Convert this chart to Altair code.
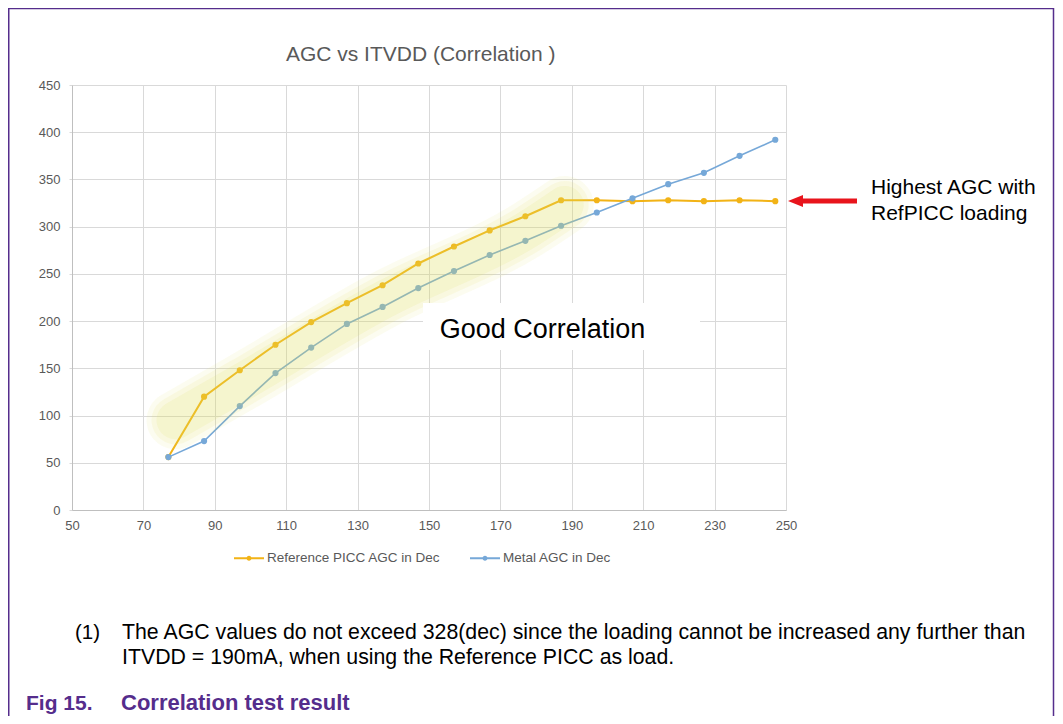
import altair as alt
import pandas as pd

# ---------------- data ----------------
itvdd = [77, 87, 97, 107, 117, 127, 137, 147, 157, 167, 177, 187, 197, 207, 217, 227, 237, 247]
ref_picc = [56, 120, 148, 175, 199, 219, 238, 261, 279, 296, 311, 328, 328, 327, 328, 327, 328, 327]
metal = [56, 73, 110, 145, 172, 197, 215, 235, 253, 270, 285, 301, 315, 330, 345, 357, 375, 392]
series_names = ["Reference PICC AGC in Dec", "Metal AGC in Dec"]
series_colors = ["#F2B316", "#76A8D8"]
x_ticks = [50, 70, 90, 110, 130, 150, 170, 190, 210, 230, 250]
y_ticks = [0, 50, 100, 150, 200, 250, 300, 350, 400, 450]

# centre line of the "good correlation" highlight band (data units)
band_x = [79, 97, 137, 178, 188]
band_y = [95, 134, 222, 298, 323]

title_text = "AGC vs ITVDD (Correlation )"
good_text = "Good Correlation"
note_lines = ["Highest AGC with", "RefPICC loading"]
foot_num = "(1)"
foot_lines = [
    "The AGC values do not exceed 328(dec) since the loading cannot be increased any further than",
    "ITVDD = 190mA, when using the Reference PICC as load.",
]
fig_num = "Fig 15."
fig_title = "Correlation test result"

FONT = "Liberation Sans"
GRAY = "#595959"
PURPLE = "#552D8C"

# ---------------- tables ----------------
n = len(itvdd)
df = pd.DataFrame({
    "ITVDD": itvdd + itvdd,
    "AGC": ref_picc + metal,
    "Series": [series_names[0]] * n + [series_names[1]] * n,
})
band_df = pd.DataFrame({"ITVDD": band_x, "AGC": band_y})
one = alt.Data(values=[{"t": ""}])

xs = alt.Scale(domain=[50, 250], nice=False, zero=False)
ys = alt.Scale(domain=[0, 450], nice=False)

legend_symbol = "M-1,0L1,0M-0.1,0a0.1,0.1 0 1,0 0.2,0a0.1,0.1 0 1,0 -0.2,0"

color = alt.Color(
    "Series:N",
    scale=alt.Scale(domain=series_names, range=series_colors),
    legend=alt.Legend(
        title=None, orient="none", legendX=161, legendY=457, direction="horizontal",
        symbolType=legend_symbol, symbolSize=900, symbolStrokeWidth=2,
        labelFontSize=13.5, labelColor=GRAY, labelFont=FONT, labelOffset=2,
        labelLimit=400, columnPadding=25, padding=0,
    ),
)

x_axis = alt.Axis(values=x_ticks, title=None, grid=True, ticks=False, labelPadding=9,
                  labelFontSize=13, labelColor=GRAY, labelFont=FONT, labelFlush=False,
                  domainColor="#BFBFBF", gridColor="#D9D9D9")
y_axis = alt.Axis(values=y_ticks, title=None, grid=True, ticks=True, tickSize=3,
                  tickColor="#D9D9D9", labelPadding=9, labelFontSize=13,
                  labelColor=GRAY, labelFont=FONT, labelFlush=False,
                  domainColor="#BFBFBF", gridColor="#D9D9D9")


def series_layer(name, width):
    return alt.Chart(df).transform_filter(alt.datum.Series == name).mark_line(
        strokeWidth=width,
        point=alt.OverlayMarkDef(filled=True, size=38, opacity=1),
    ).encode(
        x=alt.X("ITVDD:Q", scale=xs, axis=x_axis),
        y=alt.Y("AGC:Q", scale=ys, axis=y_axis),
        color=color,
    )


orange = series_layer(series_names[0], 2)
blue = series_layer(series_names[1], 1.6)


def band_layer(w, op):
    return alt.Chart(band_df).mark_line(
        strokeWidth=w, strokeCap="round", strokeJoin="round", color="#E2DD5C",
        opacity=op, interpolate="monotone",
    ).encode(
        x=alt.X("ITVDD:Q", scale=xs, axis=x_axis),
        y=alt.Y("AGC:Q", scale=ys, axis=y_axis),
        order=alt.Order("ITVDD:Q"),
    )


bands = [band_layer(58, 0.09), band_layer(48, 0.11), band_layer(38, 0.13)]


def text_layer(txt, x, y, **kw):
    return alt.Chart(alt.Data(values=[{"t": txt}])).mark_text(font=FONT, **kw).encode(
        x=alt.value(x), y=alt.value(y), text="t:N")


border = alt.Chart(one).mark_rect(fill="transparent", stroke=PURPLE, strokeWidth=1.5).encode(
    x=alt.value(-63.25), x2=alt.value(981.5), y=alt.value(-76.5), y2=alt.value(800))

white_box = alt.Chart(one).mark_rect(fill="white").encode(
    x=alt.value(351), x2=alt.value(628), y=alt.value(218), y2=alt.value(265))

arrow_shaft = alt.Chart(one).mark_rule(color="#E8141C", strokeWidth=5).encode(
    x=alt.value(728), x2=alt.value(785), y=alt.value(116))
arrow_head = alt.Chart(one).mark_point(
    shape="M-1,0L1,-0.8L1,0.8Z", size=225, filled=True, color="#E8141C", opacity=1
).encode(x=alt.value(723.5), y=alt.value(116))

texts = [
    text_layer(title_text, 348.7, -24, fontSize=21, color=GRAY, align="center", baseline="alphabetic"),
    text_layer(good_text, 470.5, 253, fontSize=27, color="#000000", align="center", baseline="alphabetic"),
    text_layer(note_lines[0], 799, 109, fontSize=21, color="#000000", align="left", baseline="alphabetic"),
    text_layer(note_lines[1], 799, 135, fontSize=21, color="#000000", align="left", baseline="alphabetic"),
    text_layer(foot_num, 3, 554, fontSize=20.5, color="#000000", align="left", baseline="alphabetic"),
    text_layer(foot_lines[0], 50, 554, fontSize=21.3, color="#000000", align="left", baseline="alphabetic"),
    text_layer(foot_lines[1], 50, 579, fontSize=21.3, color="#000000", align="left", baseline="alphabetic"),
    text_layer(fig_num, -46, 625, fontSize=21, fontWeight="bold", color=PURPLE, align="left", baseline="alphabetic"),
    text_layer(fig_title, 49, 625, fontSize=22, fontWeight="bold", color=PURPLE, align="left", baseline="alphabetic"),
]

chart = alt.layer(
    orange, blue, *bands, white_box, arrow_shaft, arrow_head, border, *texts
).properties(
    width=714, height=425,
    background="white",
    autosize=alt.AutoSizeParams(type="none"),
    padding={"left": 64, "top": 77, "right": 269, "bottom": 206},
).configure_view(stroke=None)

chart.save("out.html", embed_options={"renderer": "svg", "actions": False})
